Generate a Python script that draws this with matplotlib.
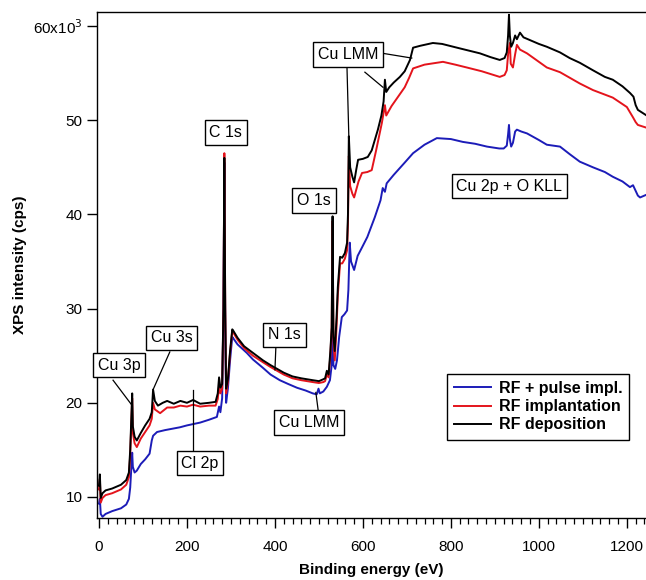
import numpy as np
import matplotlib
matplotlib.use('Agg')
import matplotlib.pyplot as plt
from matplotlib.ticker import MultipleLocator, FixedLocator, FixedFormatter

plt.rcParams['font.family'] = ['Liberation Sans', 'DejaVu Sans']

### Data (binding energy in eV, intensity in 10^3 cps)

# RF deposition (black)
e_dep = [0, 2, 4, 8, 15, 30, 50, 62, 68, 71, 74, 75.5, 77, 81, 86, 95, 105, 115, 120, 123,
         127, 134, 145, 155, 170, 185, 200, 214, 230, 250, 265, 270, 273, 276, 280, 283, 285,
         287, 289, 293, 298, 303, 306, 315, 330, 350, 373, 390, 405, 420, 440, 460, 486, 500,
         510, 514, 518, 522, 526, 529, 531, 533, 536, 540, 543, 548, 553, 559, 564, 566, 568,
         571, 576, 580, 585, 589, 600, 611, 620, 634, 642, 647, 650, 653, 660, 670, 684, 695,
         707, 714, 730, 759, 780, 814, 840, 866, 890, 911, 922, 927, 930, 932, 934, 937, 941,
         946, 950, 957, 965, 980, 1000, 1018, 1048, 1070, 1093, 1123, 1150, 1168, 1190, 1207,
         1215, 1220, 1225, 1235, 1245]
i_dep = [11.2, 12.4, 9.9, 10.4, 10.7, 10.9, 11.3, 11.8, 12.6, 15.0, 19.0, 21.0, 17.5, 16.4,
         16.0, 16.8, 17.6, 18.3, 19.0, 21.4, 20.2, 19.7, 20.0, 20.2, 19.9, 20.2, 20.0, 20.3,
         19.9, 20.0, 20.1, 21.0, 22.7, 21.6, 22.0, 30.0, 46.0, 30.0, 21.5, 22.5, 25.5, 27.8,
         27.6, 26.9, 26.0, 25.3, 24.5, 24.0, 23.6, 23.2, 22.8, 22.6, 22.4, 22.3, 22.5, 22.6,
         23.4, 23.0, 25.5, 28.0, 39.8, 27.0, 25.5, 29.0, 32.3, 35.5, 35.4, 35.9, 37.0, 40.0,
         48.3, 45.0, 44.0, 43.4, 44.8, 45.8, 45.9, 46.1, 46.8, 49.0, 50.5, 52.0, 54.3, 53.0,
         53.5, 54.0, 54.6, 55.2, 56.4, 57.7, 57.9, 58.2, 58.1, 57.7, 57.4, 57.1, 56.7, 56.4,
         56.6, 57.2, 59.0, 61.2, 59.0, 57.8, 58.2, 59.0, 58.6, 59.3, 58.8, 58.5, 58.1, 57.8,
         57.2, 56.6, 56.1, 55.3, 54.6, 54.3, 53.6, 52.9, 52.5, 51.6, 51.1, 50.8, 50.5]

# RF implantation (red)
e_imp = [0, 2, 4, 8, 15, 30, 50, 62, 68, 71, 74, 75.5, 77, 81, 86, 95, 105, 115, 120, 123,
         127, 139, 155, 170, 185, 200, 214, 230, 250, 265, 270, 273, 276, 280, 283, 285, 287,
         289, 293, 298, 303, 306, 315, 330, 350, 373, 390, 405, 420, 440, 460, 486, 500, 510,
         514, 518, 522, 526, 529, 531, 533, 536, 540, 543, 548, 553, 559, 564, 566, 568, 571,
         576, 580, 590, 598, 610, 620, 630, 643, 650, 653, 665, 680, 695, 705, 714, 740, 782,
         810, 836, 870, 911, 922, 927, 930, 934, 936, 941, 946, 950, 957, 973, 1000, 1018,
         1048, 1093, 1123, 1168, 1200, 1214, 1220, 1225, 1245]
i_imp = [10.8, 11.9, 9.4, 9.9, 10.2, 10.4, 10.8, 11.3, 12.1, 14.5, 18.5, 20.5, 16.8, 15.7,
         15.3, 16.2, 16.9, 17.6, 18.3, 20.0, 19.3, 18.9, 19.5, 19.5, 19.7, 19.6, 19.8, 19.6,
         19.7, 19.7, 20.4, 21.8, 21.0, 21.5, 30.0, 46.5, 30.0, 21.0, 22.2, 25.3, 27.6, 27.4,
         26.7, 25.8, 25.0, 24.3, 23.8, 23.4, 23.0, 22.6, 22.4, 22.2, 22.1, 22.2, 22.3, 23.0,
         22.7, 25.0, 28.0, 39.3, 26.5, 24.5, 28.0, 31.5, 34.8, 34.8, 35.3, 36.2, 39.0, 46.2,
         43.0, 42.2, 41.8, 43.5, 44.4, 44.5, 44.7, 46.8, 49.7, 51.6, 50.5, 51.5, 52.5, 53.5,
         54.5, 55.5, 55.9, 56.2, 55.9, 55.6, 55.2, 54.6, 54.8, 55.3, 57.0, 58.2, 56.0, 55.6,
         57.0, 58.0, 57.5, 57.1, 56.2, 55.6, 55.1, 53.9, 53.2, 52.4, 51.4, 50.3, 49.8, 49.5,
         49.2]

# RF + pulse implantation (blue)
e_pul = [0, 2, 4, 8, 15, 30, 50, 62, 68, 71, 74, 75.5, 77, 81, 86, 95, 105, 115, 120, 123,
         132, 150, 184, 200, 230, 250, 268, 273, 276, 280, 283, 285, 287, 289, 293, 298, 303,
         306, 315, 336, 350, 373, 390, 411, 430, 450, 470, 486, 495, 499, 502, 510, 518, 525,
         529, 531, 533, 537, 541, 546, 552, 558, 564, 567, 570, 573, 580, 588, 598, 610, 627,
         640, 645, 650, 654, 670, 695, 714, 740, 768, 800, 827, 855, 882, 910, 920, 927, 930,
         932, 934, 937, 941, 946, 950, 960, 973, 1000, 1018, 1048, 1070, 1093, 1123, 1150,
         1168, 1190, 1207, 1214, 1225, 1230, 1245]
i_pul = [9.3, 9.8, 8.2, 7.9, 8.2, 8.5, 8.8, 9.2, 9.8, 11.0, 13.5, 14.7, 13.2, 12.6, 12.8,
         13.5, 14.0, 14.6, 16.0, 16.5, 16.9, 17.1, 17.4, 17.6, 17.9, 18.2, 18.5, 19.6, 19.0,
         20.5, 30.0, 45.5, 28.0, 20.0, 21.5, 24.5, 27.0, 26.8, 26.2, 25.3, 24.6, 23.7, 23.0,
         22.4, 22.0, 21.6, 21.3, 21.0, 20.9, 21.5, 21.0, 21.2, 21.7, 22.4, 24.0, 27.5, 24.0,
         23.6, 24.5, 27.0, 29.1, 29.4, 29.8, 32.0, 37.0, 35.0, 34.1, 35.6, 36.5, 37.6, 39.7,
         41.5, 42.8, 42.4, 43.3, 44.2, 45.5, 46.5, 47.4, 48.1, 48.0, 47.7, 47.5, 47.2, 47.0,
         47.0, 47.3, 48.5, 49.5, 48.0, 47.2, 47.6, 48.8, 49.0, 48.8, 48.6, 47.9, 47.4, 47.2,
         46.4, 45.6, 45.0, 44.5, 44.0, 43.5, 42.9, 43.1, 42.0, 41.8, 42.1]

series_names = ['RF + pulse impl.', 'RF implantation', 'RF deposition']
series_colors = ['#1c1cb8', '#e4141c', 'black']

# peak labels: text, box centre (eV, kcps), leader lines [(start), (end)]
labels = [
    ('Cu 3p', (45.5, 24.0), [((32, 22.4), (74, 19.8))]),
    ('Cu 3s', (165, 26.9), [((161, 25.4), (123, 21.4))]),
    ('Cl 2p', (229.5, 13.6), [((214, 14.8), (214, 21.4))]),
    ('C 1s', (288.6, 48.7), []),
    ('N 1s', (421.6, 27.2), [((402, 25.8), (400, 23.5))]),
    ('Cu LMM', (477, 17.9), [((498, 19.3), (493, 21.1))]),
    ('O 1s', (489, 41.5), []),
    ('Cu LMM', (566, 57.0), [((645.5, 57.1), (711, 56.6)),
                             ((563.6, 55.9), (568, 48.2)),
                             ((604.5, 55.1), (645.5, 53.5))]),
    ('Cu 2p + O KLL', (933, 43.0), []),
]

### Plot
fig = plt.figure(figsize=(6.46, 5.8), dpi=100)
ax = fig.add_axes([97 / 646, 62 / 580, 1 - 97 / 646, 506 / 580])

for e, i, name, c in zip([e_pul, e_imp, e_dep], [i_pul, i_imp, i_dep], series_names, series_colors):
    ax.plot(e, i, color=c, lw=1.4, label=name)

for text, (tx, ty), leaders in labels:
    for (x0, y0), (x1, y1) in leaders:
        ax.plot([x0, x1], [y0, y1], color='black', lw=0.9)
    ax.text(tx, ty, text, ha='center', va='center', fontsize=11.5,
            bbox=dict(boxstyle='square,pad=0.3', fc='white', ec='black', lw=1.0))

ax.set_xlim(-4.5, 1243.5)
ax.set_ylim(7.77, 61.49)

ax.xaxis.set_major_locator(MultipleLocator(200))
ax.xaxis.set_minor_locator(MultipleLocator(20))
yt = [10, 20, 30, 40, 50, 60]
ax.yaxis.set_major_locator(FixedLocator(yt))
ax.yaxis.set_major_formatter(FixedFormatter(['10', '20', '30', '40', '50', '60x10$^3$']))
ax.tick_params(axis='both', which='major', direction='out', length=7, width=1.0, labelsize=11)
ax.tick_params(axis='x', which='major', pad=9)
ax.tick_params(axis='x', which='minor', direction='out', length=4, width=0.9)
ax.spines['right'].set_visible(False)
for s in ['left', 'top', 'bottom']:
    ax.spines[s].set_linewidth(1.0)

ax.set_xlabel('Binding energy (eV)', fontsize=11, fontweight='bold', labelpad=6)
# the 60x10^3 label is wide, so place the y title by hand
ax.set_ylabel('XPS intensity (cps)', fontsize=11, fontweight='bold')
ax.yaxis.set_label_coords(-0.127, 0.5)

leg = ax.legend(loc='upper left', bbox_to_anchor=(0.637, 0.285), fancybox=False,
                edgecolor='black', framealpha=1, borderaxespad=0, handlelength=2.3,
                labelspacing=0.2, handletextpad=0.5, borderpad=0.45,
                prop={'weight': 'bold', 'size': 11.5})
leg.get_frame().set_linewidth(1.0)

fig.savefig('out.png', dpi=100)
